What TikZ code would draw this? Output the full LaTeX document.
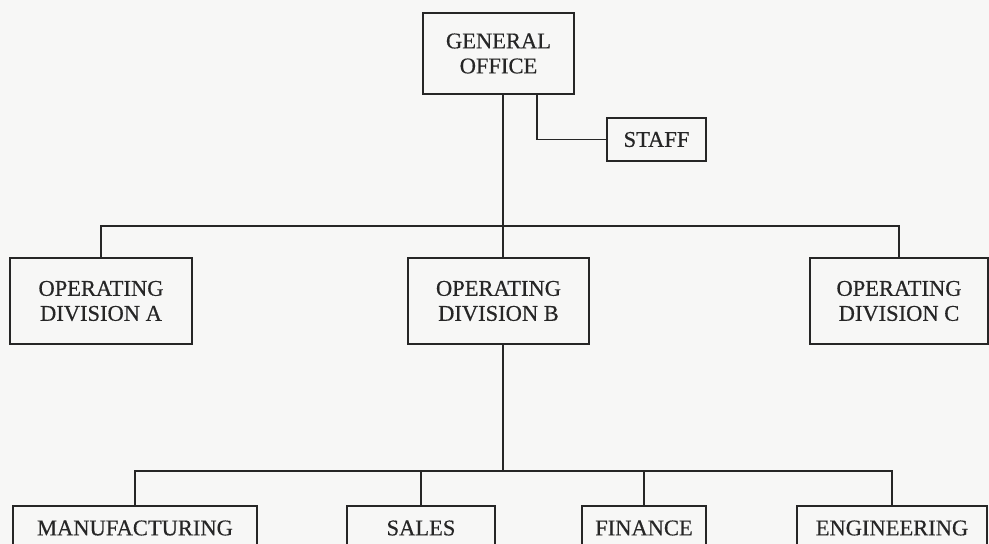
\documentclass[tikz,border=0pt]{standalone}
\usepackage{fontspec}
\setmainfont{Liberation Serif}[FakeBold=0.45]
\usetikzlibrary{calc}
\definecolor{ink}{HTML}{262626}
\definecolor{paper}{HTML}{F7F7F6}
\begin{document}
\begin{tikzpicture}[x=1pt,y=-1pt,
  orgbox/.style={draw=ink, line width=1.9pt, fill=paper, rectangle, align=center, inner sep=0pt,
    text=ink, font=\fontsize{22.5}{25}\selectfont},
  conn/.style={draw=ink, line width=1.9pt}]
\useasboundingbox (0,0) rectangle (989,544);
\clip (0,0) rectangle (989,544);
\fill[paper] (0,0) rectangle (989,544);

\node[orgbox, minimum width=151, minimum height=81] (GO) at (498.5,53.5) {GENERAL\\OFFICE};
\node[orgbox, minimum width=99, minimum height=43] (ST) at (656.5,139.5) {STAFF};

\node[orgbox, minimum width=182, minimum height=86] (A) at (101,301) {OPERATING\\DIVISION A};
\node[orgbox, minimum width=181, minimum height=86] (B) at (498.5,301) {OPERATING\\DIVISION B};
\node[orgbox, minimum width=178, minimum height=86] (C) at (899,301) {OPERATING\\DIVISION C};

\node[orgbox, minimum width=244, minimum height=44] (M) at (135,528) {MANUFACTURING};
\node[orgbox, minimum width=148, minimum height=44] (S) at (421,528) {SALES};
\node[orgbox, minimum width=124, minimum height=44] (F) at (644,528) {FINANCE};
\node[orgbox, minimum width=190, minimum height=44] (E) at (892,528) {ENGINEERING};

\coordinate (j1) at (503,226);
\coordinate (j2) at (503,471);
\coordinate (sj) at (537,0);

% General office to staff
\draw[conn] (GO.south -| sj) |- (ST.west);
% General office to divisions
\draw[conn] (GO.south -| j1) -- (j1);
\draw[conn] (A.north) |- (j1) -| (C.north);
\draw[conn] (j1) -- (j1 |- B.north);
% Division B to departments
\draw[conn] (B.south -| j2) -- (j2);
\draw[conn] (M.north) |- (j2);
\draw[conn] (S.north) |- (j2);
\draw[conn] (F.north) |- (j2);
\draw[conn] (j2) -| (E.north);
\end{tikzpicture}
\end{document}
